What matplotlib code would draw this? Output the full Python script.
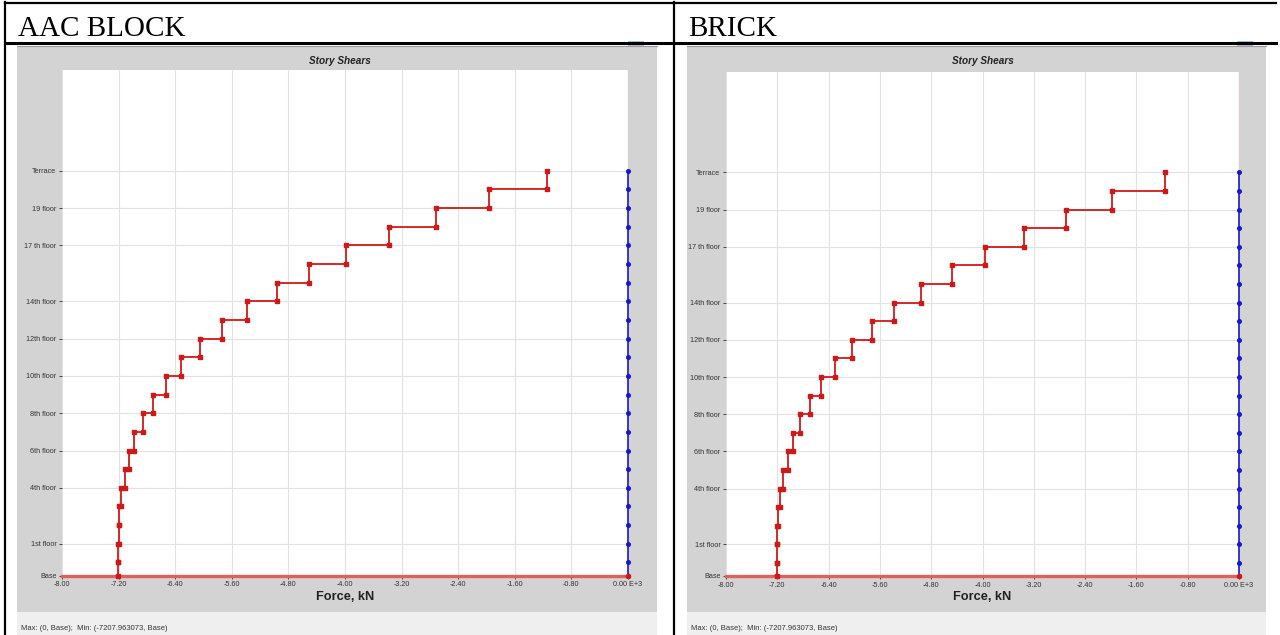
import numpy as np
import matplotlib
matplotlib.use('Agg')
import matplotlib.pyplot as plt
from matplotlib.patches import Rectangle

# Story levels (elevation in story units) and labelled ticks
level_elev = [0, 0.7, 1.7, 2.7, 3.7, 4.7, 5.7, 6.7, 7.7, 8.7, 9.7, 10.7,
              11.7, 12.7, 13.7, 14.7, 15.7, 16.7, 17.7, 18.7, 19.7, 20.7, 21.7]
tick_elev = [0, 1.7, 4.7, 6.7, 8.7, 10.7, 12.7, 14.7, 17.7, 19.7, 21.7]
tick_labels = ['Base', '1st floor', '4th floor', '6th floor', '8th floor', '10th floor',
               '12th floor', '14th floor', '17 th floor', '19 floor', 'Terrace']

# Story shear (E+3 kN), bottom story first
aac_shear = [-7.208, -7.203, -7.199, -7.189, -7.167, -7.114, -7.054, -6.977, -6.856,
             -6.715, -6.535, -6.323, -6.055, -5.744, -5.391, -4.967, -4.506, -3.979,
             -3.372, -2.708, -1.969, -1.150]
brick_shear = [-7.208, -7.205, -7.200, -7.190, -7.160, -7.110, -7.040, -6.960, -6.850,
               -6.697, -6.515, -6.303, -6.037, -5.730, -5.376, -4.961, -4.482, -3.963,
               -3.359, -2.700, -1.975, -1.159]

x_ticks = [-8.0, -7.2, -6.4, -5.6, -4.8, -4.0, -3.2, -2.4, -1.6, -0.8, 0.0]
x_ticklabels = ['-8.00', '-7.20', '-6.40', '-5.60', '-4.80', '-4.00', '-3.20',
                '-2.40', '-1.60', '-0.80', '0.00 E+3']
status = 'Max: (0, Base);  Min: (-7207.963073, Base)'

W, H = 1280, 635
fig = plt.figure(figsize=(W / 100, H / 100), dpi=100)
fig.patch.set_facecolor('white')

# background layer in pixel coordinates
bg = fig.add_axes([0, 0, 1, 1])
bg.set_xlim(0, W)
bg.set_ylim(H, 0)
bg.axis('off')

# table lines
bg.plot([5, 5], [2, H], color='black', lw=1.6)
bg.plot([5, 1276], [2.5, 2.5], color='black', lw=1.6)
bg.plot([5, 1276], [42.5, 42.5], color='black', lw=2.2)
bg.plot([674, 674], [2, H], color='black', lw=1.6)
bg.text(18, 36, 'AAC BLOCK', fontsize=21, family='Liberation Serif')
bg.text(688, 36, 'BRICK', fontsize=21, family='Liberation Serif')


def panel(x0, x1, plot_box, shear, title_x):
    # gray window and status bar
    bg.add_patch(Rectangle((x0, 46), x1 - x0, 566, color='#d3d3d3', lw=0))
    bg.add_patch(Rectangle((x0, 612), x1 - x0, 23, color='#efefef', lw=0))
    bg.plot([x0, x1], [46, 46], color='#9a9a9a', lw=0.8)
    bg.add_patch(Rectangle((x1 - 29, 41), 16, 5, color='#a8c0dc', lw=0))
    bg.text(title_x, 61, 'Story Shears', fontsize=7.2, fontweight='bold',
            style='italic', ha='center', va='center', color='#222222',
            family='Liberation Sans')
    bg.text(x0 + 4, 628, status, fontsize=5.5, va='center', color='#333333',
            family='Liberation Sans')

    l, t, r, b = plot_box
    ax = fig.add_axes([l / W, (H - b) / H, (r - l) / W, (b - t) / H])
    ax.set_xlim(-8, 0)
    ax.set_ylim(0, 27.1)
    ax.set_facecolor('white')
    for s in ax.spines.values():
        s.set_visible(False)
    ax.set_xticks(x_ticks)
    ax.set_xticklabels(x_ticklabels)
    ax.set_yticks(tick_elev)
    ax.set_yticklabels(tick_labels)
    ax.tick_params(labelsize=5.2, length=2.5, width=0.7, color='#444444',
                   labelcolor='#333333', pad=1.5)
    for lab in ax.get_xticklabels() + ax.get_yticklabels():
        lab.set_family('Liberation Sans')
    ax.grid(True, color='#e2e2e2', lw=0.8)
    ax.set_axisbelow(True)
    ax.set_xlabel('Force, kN', fontsize=9.2, fontweight='bold',
                  family='Liberation Sans', color='#222222', labelpad=2)

    # step curve of story shear
    xs = np.repeat(shear, 2)
    ys = np.repeat(level_elev, 2)[1:-1]
    ax.axhline(0, color='#e06060', lw=2.4, clip_on=False, zorder=3)
    ax.plot([0, 0], [level_elev[-1], 27.1], color='#e03030', lw=0.8, zorder=3)
    ax.plot(xs, ys, color='#d01818', lw=1.3, marker='s', ms=2.8,
            clip_on=False, zorder=4)
    ax.plot(np.zeros(len(level_elev)), level_elev, color='#1818d0', lw=1.2,
            marker='o', ms=2.6, clip_on=False, zorder=4)
    ax.plot([0], [0], marker='o', ms=3, color='#d01818', clip_on=False, zorder=5)
    return ax


panel(17, 657, (62, 70, 628, 575.5), aac_shear, 340)
panel(687, 1266, (726, 72, 1239, 576), brick_shear, 983)

plt.savefig('out.png', dpi=100)
